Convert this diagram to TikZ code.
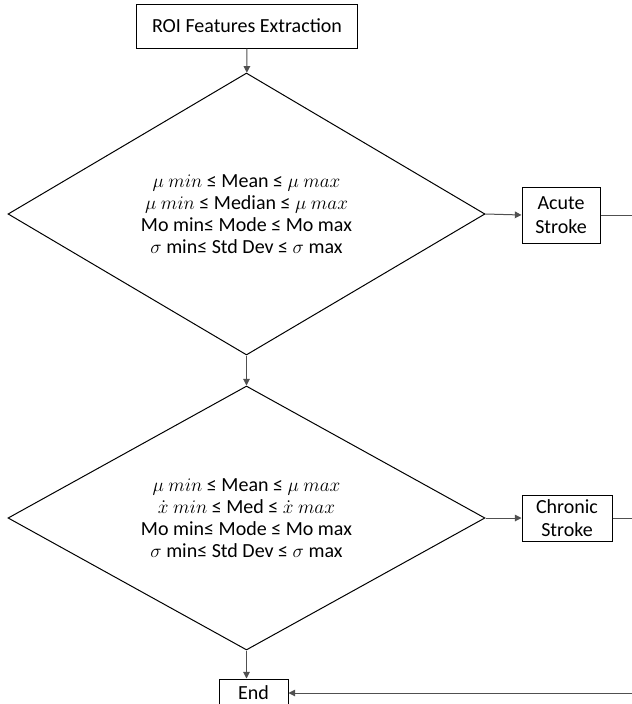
\documentclass[tikz,border=0pt]{standalone}
\usepackage{fontspec}
\setmainfont{Carlito}
\usetikzlibrary{positioning,shapes.geometric,arrows.meta}
\definecolor{linkgray}{RGB}{80,80,80}

\begin{document}
\begin{tikzpicture}[x=0.75pt,y=-0.75pt,
  box/.style={draw,line width=0.75pt,inner sep=0pt,align=center,font=\fontsize{15}{17.5}\selectfont},
  test/.style={diamond,draw,line width=0.75pt,inner sep=0pt,shape aspect=1.8,align=center,font=\fontsize{15}{16.4}\selectfont},
  link/.style={draw=linkgray,line width=0.75pt,-{Triangle[length=5pt,width=5pt]}}]
\useasboundingbox (0,0) rectangle (632,704);
% process boxes and decisions
\node[box,minimum width=165.75pt,minimum height=33pt] (roi) at (247,26) {ROI Features Extraction};
\node[test,minimum width=357.75pt,minimum height=211.5pt] (acutetest) at (246.5,214)
  {$\mu\ min$ ≤ Mean ≤ $\mu\ max$\\ $\mu\ min$ ≤ Median ≤ $\mu\ max$\\ Mo min≤ Mode ≤ Mo max\\ $\sigma$ min≤ Std Dev ≤ $\sigma$ max};
\node[test,minimum width=357.75pt,minimum height=198pt] (chronictest) at (246.5,518)
  {$\mu\ min$ ≤ Mean ≤ $\mu\ max$\\ $\dot{x}\ min$ ≤ Med ≤ $\dot{x}\ max$\\ Mo min≤ Mode ≤ Mo max\\ $\sigma$ min≤ Std Dev ≤ $\sigma$ max};
\node[box,minimum width=58.5pt,minimum height=42pt] (acute) at (561,215) {Acute\\Stroke};
\node[box,minimum width=67.5pt,minimum height=34.5pt] (chronic) at (567,518) {Chronic\\Stroke};
\node[box,minimum width=51.75pt,minimum height=21pt] (end) at (253.5,693) {End};
\coordinate (rail) at (632,0);
% connectors
\draw[link] (roi) -- (acutetest);
\draw[link] (acutetest) -- (chronictest);
\draw[link] (chronictest.south) -- (chronictest.south |- end.north);
\draw[link] (acutetest.east) -- (acute.west);
\draw[link] (chronictest.east) -- (chronic.west);
\draw[draw=linkgray,line width=0.75pt] (acute.east) -- (acute.east -| rail);
\draw[draw=linkgray,line width=0.75pt] (chronic.east) -- (chronic.east -| rail);
\draw[link] (end.east -| rail) -- (end.east);
\end{tikzpicture}
\end{document}
